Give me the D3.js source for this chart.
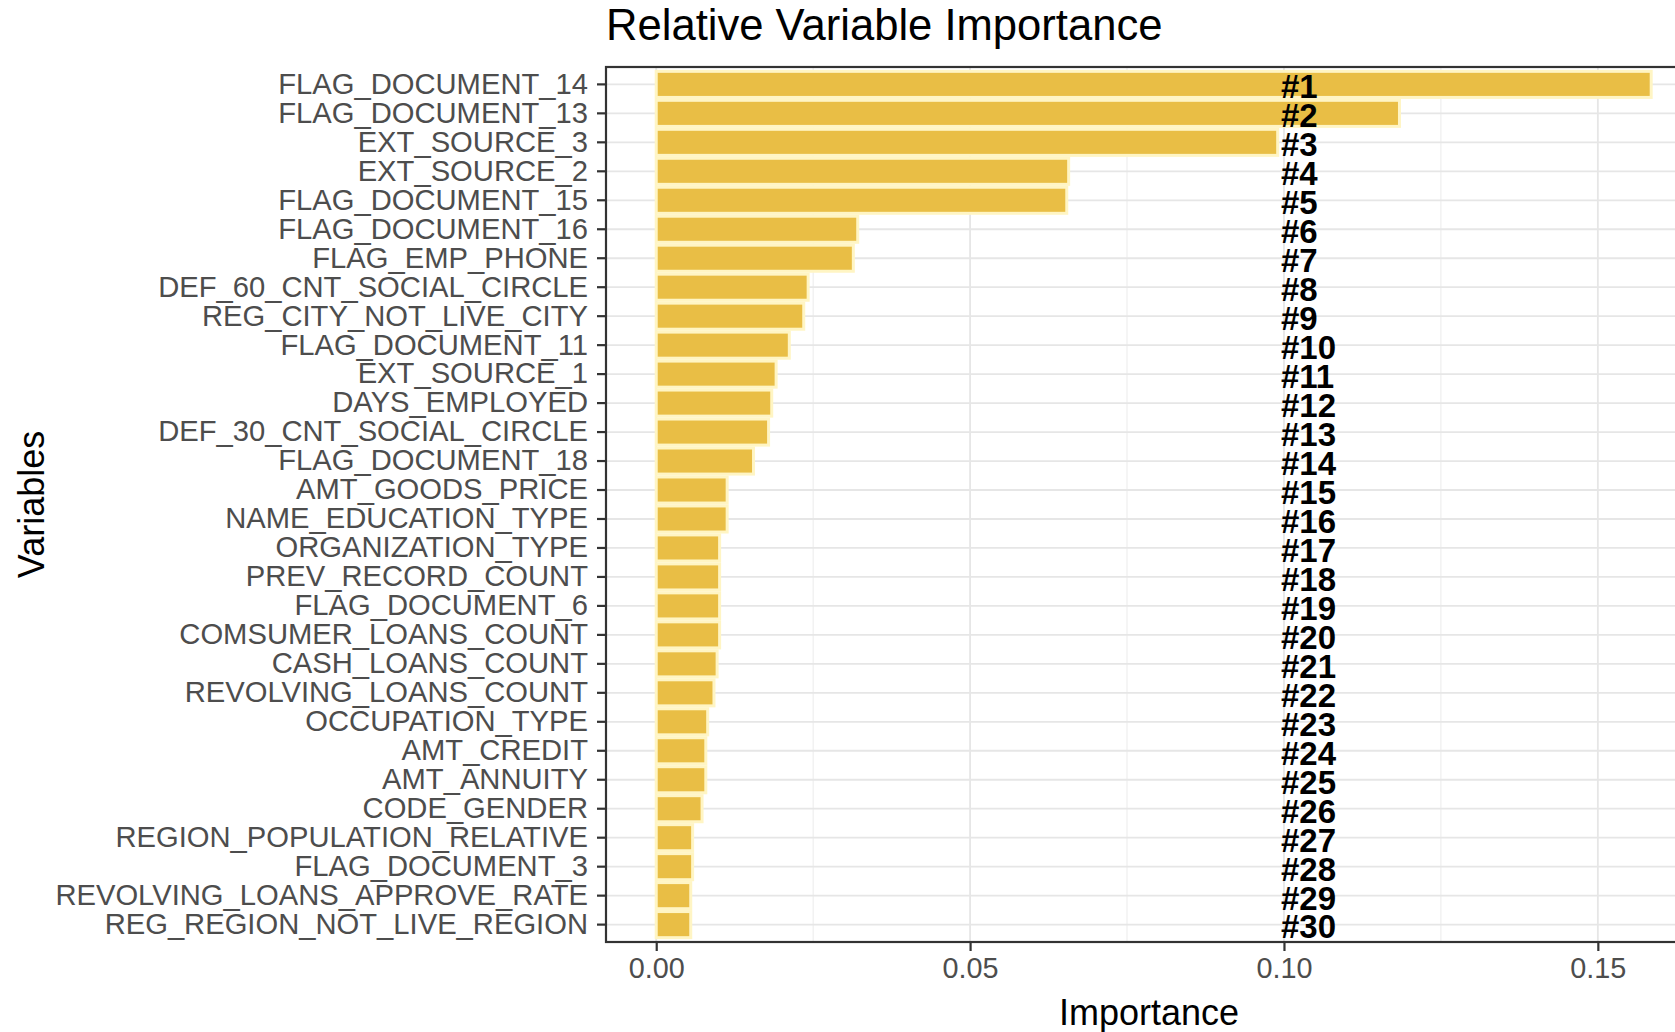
<!DOCTYPE html>
<html>
<head>
<meta charset="utf-8">
<script src="https://cdn.jsdelivr.net/npm/d3@7"></script>
<style>
  html, body { margin: 0; padding: 0; background: #ffffff; }
  svg { display: block; }
  text { font-family: "Liberation Sans", Arial, sans-serif; }
</style>
</head>
<body>
<svg id="chart" width="1675" height="1032"></svg>
<script>
const categories = [
  "FLAG_DOCUMENT_14", "FLAG_DOCUMENT_13", "EXT_SOURCE_3", "EXT_SOURCE_2",
  "FLAG_DOCUMENT_15", "FLAG_DOCUMENT_16", "FLAG_EMP_PHONE", "DEF_60_CNT_SOCIAL_CIRCLE",
  "REG_CITY_NOT_LIVE_CITY", "FLAG_DOCUMENT_11", "EXT_SOURCE_1", "DAYS_EMPLOYED",
  "DEF_30_CNT_SOCIAL_CIRCLE", "FLAG_DOCUMENT_18", "AMT_GOODS_PRICE", "NAME_EDUCATION_TYPE",
  "ORGANIZATION_TYPE", "PREV_RECORD_COUNT", "FLAG_DOCUMENT_6", "COMSUMER_LOANS_COUNT",
  "CASH_LOANS_COUNT", "REVOLVING_LOANS_COUNT", "OCCUPATION_TYPE", "AMT_CREDIT",
  "AMT_ANNUITY", "CODE_GENDER", "REGION_POPULATION_RELATIVE", "FLAG_DOCUMENT_3",
  "REVOLVING_LOANS_APPROVE_RATE", "REG_REGION_NOT_LIVE_REGION"
];
const importance = [
  0.1585, 0.1184, 0.0990, 0.0657,
  0.0654, 0.0321, 0.0314, 0.0242,
  0.0235, 0.0212, 0.0191, 0.0184,
  0.0179, 0.0155, 0.0113, 0.0113,
  0.0101, 0.0101, 0.0101, 0.0101,
  0.0097, 0.0092, 0.0082, 0.0079,
  0.0079, 0.0073, 0.0058, 0.0058,
  0.0055, 0.0055
];
const rankLabels = [
  "#1", "#2", "#3", "#4", "#5", "#6", "#7", "#8", "#9", "#10",
  "#11", "#12", "#13", "#14", "#15", "#16", "#17", "#18", "#19", "#20",
  "#21", "#22", "#23", "#24", "#25", "#26", "#27", "#28", "#29", "#30"
];
const rankLabelPosition = 0.10;
const xTicks = [0.00, 0.05, 0.10, 0.15];
const xTickLabels = ["0.00", "0.05", "0.10", "0.15"];
const xMinorTicks = [0.025, 0.075, 0.125];
const chartTitle = "Relative Variable Importance";
const xTitle = "Importance";
const yTitle = "Variables";

const svg = d3.select("#chart");
const W = 1675, H = 1032;
const panel = { left: 606, right: 1692, top: 67, bottom: 942 };

svg.append("rect").attr("x", 0).attr("y", 0).attr("width", W).attr("height", H).attr("fill", "#ffffff");

const x = d3.scaleLinear().domain([-0.008, 0.165]).range([panel.left, panel.right]);
const y = d3.scaleBand().domain(categories).range([panel.top, panel.bottom])
  .paddingInner(0.1).paddingOuter(0.15);

const data = categories.map((c, i) => ({ name: c, value: importance[i], rank: rankLabels[i] }));

const g = svg.append("g");

// grid
g.selectAll("line.minor").data(xMinorTicks).join("line")
  .attr("x1", d => x(d)).attr("x2", d => x(d))
  .attr("y1", panel.top).attr("y2", panel.bottom)
  .attr("stroke", "#EBEBEB").attr("stroke-width", 1);
g.selectAll("line.majorx").data(xTicks).join("line")
  .attr("x1", d => x(d)).attr("x2", d => x(d))
  .attr("y1", panel.top).attr("y2", panel.bottom)
  .attr("stroke", "#E6E6E6").attr("stroke-width", 1.8);
g.selectAll("line.majory").data(categories).join("line")
  .attr("x1", panel.left).attr("x2", panel.right)
  .attr("y1", d => y(d) + y.bandwidth() / 2).attr("y2", d => y(d) + y.bandwidth() / 2)
  .attr("stroke", "#E6E6E6").attr("stroke-width", 1.8);

// bars
g.selectAll("rect.bar").data(data).join("rect")
  .attr("x", x(0))
  .attr("y", d => y(d.name))
  .attr("width", d => x(d.value) - x(0))
  .attr("height", y.bandwidth())
  .attr("fill", "#E9BE45")
  .attr("stroke", "#FFF5C4")
  .attr("stroke-width", 3);

// rank labels
g.selectAll("text.rank").data(data).join("text")
  .attr("x", x(rankLabelPosition) - 3)
  .attr("y", d => y(d.name) + y.bandwidth() / 2 + 2)
  .attr("dy", "0.36em")
  .attr("font-size", 33)
  .attr("font-weight", "bold")
  .attr("fill", "#000000")
  .text(d => d.rank);

// panel border
svg.append("rect")
  .attr("x", panel.left).attr("y", panel.top)
  .attr("width", panel.right - panel.left).attr("height", panel.bottom - panel.top)
  .attr("fill", "none").attr("stroke", "#333333").attr("stroke-width", 2.2);

// y axis
const yAxis = d3.axisLeft(y).tickSize(9).tickPadding(9);
const ya = svg.append("g").attr("transform", `translate(${panel.left},0)`).call(yAxis);
ya.select(".domain").remove();
ya.selectAll(".tick line").attr("stroke", "#333333").attr("stroke-width", 2.2);
ya.selectAll(".tick text").attr("font-size", 29.2).attr("fill", "#4D4D4D")
  .attr("font-family", "'Liberation Sans', Arial, sans-serif");

// x axis
const xAxis = d3.axisBottom(x).tickValues(xTicks).tickFormat((d, i) => xTickLabels[i]).tickSize(9).tickPadding(7);
const xa = svg.append("g").attr("transform", `translate(0,${panel.bottom})`).call(xAxis);
xa.select(".domain").remove();
xa.selectAll(".tick line").attr("stroke", "#333333").attr("stroke-width", 2.2);
xa.selectAll(".tick text").attr("font-size", 28.8).attr("fill", "#4D4D4D")
  .attr("font-family", "'Liberation Sans', Arial, sans-serif");

// titles
svg.append("text")
  .attr("x", panel.left).attr("y", 40)
  .attr("font-size", 43.6).attr("fill", "#000000")
  .text(chartTitle);

svg.append("text")
  .attr("x", (panel.left + panel.right) / 2).attr("y", 1025)
  .attr("text-anchor", "middle")
  .attr("font-size", 36).attr("fill", "#000000")
  .text(xTitle);

svg.append("text")
  .attr("transform", `translate(44,${(panel.top + panel.bottom) / 2}) rotate(-90)`)
  .attr("text-anchor", "middle")
  .attr("font-size", 36).attr("fill", "#000000")
  .text(yTitle);
</script>
</body>
</html>
